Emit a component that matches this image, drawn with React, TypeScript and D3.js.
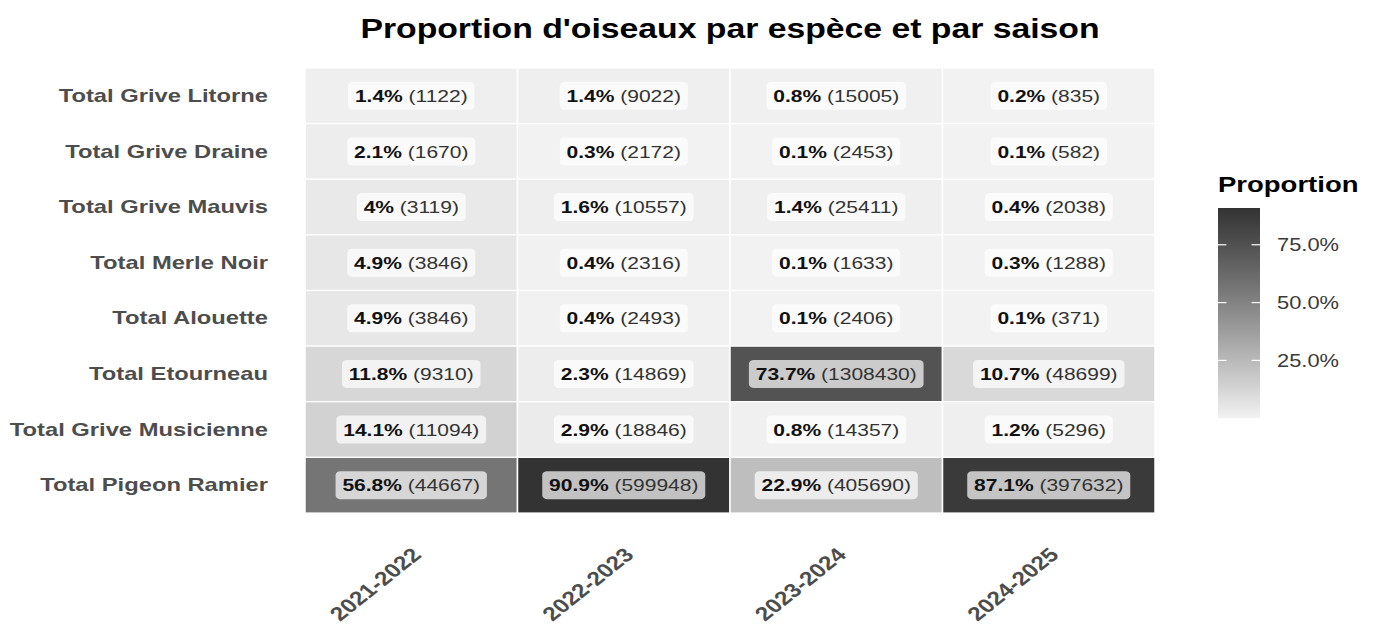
import React from "react";
import * as d3 from "d3";

const species = [
  "Total Grive Litorne",
  "Total Grive Draine",
  "Total Grive Mauvis",
  "Total Merle Noir",
  "Total Alouette",
  "Total Etourneau",
  "Total Grive Musicienne",
  "Total Pigeon Ramier",
];
const seasons = ["2021-2022", "2022-2023", "2023-2024", "2024-2025"];

const pct2122 = [1.4, 2.1, 4, 4.9, 4.9, 11.8, 14.1, 56.8];
const cnt2122 = [1122, 1670, 3119, 3846, 3846, 9310, 11094, 44667];
const pct2223 = [1.4, 0.3, 1.6, 0.4, 0.4, 2.3, 2.9, 90.9];
const cnt2223 = [9022, 2172, 10557, 2316, 2493, 14869, 18846, 599948];
const pct2324 = [0.8, 0.1, 1.4, 0.1, 0.1, 73.7, 0.8, 22.9];
const cnt2324 = [15005, 2453, 25411, 1633, 2406, 1308430, 14357, 405690];
const pct2425 = [0.2, 0.1, 0.4, 0.3, 0.1, 10.7, 1.2, 87.1];
const cnt2425 = [835, 582, 2038, 1288, 371, 48699, 5296, 397632];

const legendTicks = [25, 50, 75];

const pctBySeason = [pct2122, pct2223, pct2324, pct2425];
const cntBySeason = [cnt2122, cnt2223, cnt2324, cnt2425];

const S = 1.25; // horizontal stretch of the reference image
const W = 1379;
const H = 630;
const LW = W / S;

const FONT = "'Liberation Sans', Arial, Helvetica, sans-serif";

let ctx: CanvasRenderingContext2D | null = null;
function measure(text: string, font: string) {
  if (!ctx) ctx = document.createElement("canvas").getContext("2d");
  ctx!.font = font;
  return ctx!.measureText(text).width;
}

export default function App() {
  const panel = { x0: 305 / S, x1: 1155 / S, y0: 68, y1: 513 };
  const x = d3.scaleBand<string>().domain(seasons).range([panel.x0, panel.x1]).padding(0);
  const y = d3.scaleBand<string>().domain(species).range([panel.y0, panel.y1]).padding(0);

  const all = pctBySeason.flat();
  const vmin = d3.min(all) as number;
  const vmax = d3.max(all) as number;
  const color = d3
    .scaleLinear<string>()
    .domain([vmin, vmax])
    .range(["#f2f2f2", "#333333"])
    .interpolate(d3.interpolateLab);

  const legend = { x: 1218 / S, w: 42 / S, y0: 208, y1: 418 };
  const ly = d3.scaleLinear().domain([vmin, vmax]).range([legend.y1, legend.y0]);
  const stops = d3.range(0, 1.0001, 0.05);

  const cellFont = 16.8;
  const cells: any[] = [];
  seasons.forEach((s, si) => {
    species.forEach((sp, ri) => {
      const v = pctBySeason[si][ri];
      const c = cntBySeason[si][ri];
      const a = `${v}%`;
      const b = ` (${c})`;
      const wa = measure(a, `bold ${cellFont}px ${FONT}`);
      const wb = measure(b, `${cellFont}px ${FONT}`);
      cells.push({ s, sp, v, a, b, wa, wb });
    });
  });

  return (
    <svg
      width={W}
      height={H}
      viewBox={`0 0 ${LW} ${H}`}
      preserveAspectRatio="none"
      style={{ position: "absolute", left: 0, top: 0, background: "#fff" }}
      fontFamily={FONT}
    >
      <defs>
        <linearGradient id="lg" x1="0" y1="1" x2="0" y2="0">
          {stops.map((t) => (
            <stop key={t} offset={t} stopColor={color(vmin + t * (vmax - vmin))} />
          ))}
        </linearGradient>
      </defs>
      <rect x={0} y={0} width={LW} height={H} fill="#fff" />

      <text x={730 / S} y={38} textAnchor="middle" fontSize={27} fontWeight="bold" fill="#000">
        Proportion d'oiseaux par espèce et par saison
      </text>

      {cells.map((d) => (
        <rect
          key={`r-${d.s}-${d.sp}`}
          x={x(d.s)!}
          y={y(d.sp)!}
          width={x.bandwidth()}
          height={y.bandwidth()}
          fill={color(d.v)}
          stroke="#fff"
          strokeWidth={1.2}
        />
      ))}

      {cells.map((d) => {
        const cx = x(d.s)! + x.bandwidth() / 2;
        const cy = y(d.sp)! + y.bandwidth() / 2;
        const tw = d.wa + d.wb;
        const pad = 5.5;
        const bh = 28;
        return (
          <g key={`l-${d.s}-${d.sp}`}>
            <rect
              x={cx - tw / 2 - pad}
              y={cy - bh / 2}
              width={tw + 2 * pad}
              height={bh}
              rx={4}
              ry={4}
              fill="#fff"
              fillOpacity={0.7}
            />
            <text x={cx - tw / 2} y={cy} dominantBaseline="central" fontSize={cellFont}>
              <tspan fontWeight="bold" fill="#111">{d.a}</tspan>
              <tspan fill="#333">{d.b}</tspan>
            </text>
          </g>
        );
      })}

      {species.map((sp) => (
        <text
          key={`y-${sp}`}
          x={268 / S}
          y={y(sp)! + y.bandwidth() / 2}
          textAnchor="end"
          dominantBaseline="central"
          fontSize={19}
          fontWeight="bold"
          fill="#4d4d4d"
        >
          {sp}
        </text>
      ))}

      {seasons.map((s) => {
        const px = x(s)! + x.bandwidth() / 2 + 9;
        const py = 556;
        return (
          <text
            key={`x-${s}`}
            transform={`translate(${px},${py}) rotate(-45)`}
            textAnchor="end"
            fontSize={19.5}
            fontWeight="bold"
            fill="#4d4d4d"
          >
            {s}
          </text>
        );
      })}

      <text x={legend.x} y={192} fontSize={22} fontWeight="bold" fill="#000">
        Proportion
      </text>
      <rect x={legend.x} y={legend.y0} width={legend.w} height={legend.y1 - legend.y0} fill="url(#lg)" />
      {legendTicks.map((t) => (
        <g key={`lt-${t}`}>
          <line x1={legend.x} x2={legend.x + legend.w / 5} y1={ly(t)} y2={ly(t)} stroke="#fff" strokeWidth={1.2} />
          <line
            x1={legend.x + legend.w - legend.w / 5}
            x2={legend.x + legend.w}
            y1={ly(t)}
            y2={ly(t)}
            stroke="#fff"
            strokeWidth={1.2}
          />
          <text x={1277 / S} y={ly(t)} dominantBaseline="central" fontSize={17.5} fill="#3a3a3a">
            {`${t.toFixed(1)}%`}
          </text>
        </g>
      ))}
    </svg>
  );
}
